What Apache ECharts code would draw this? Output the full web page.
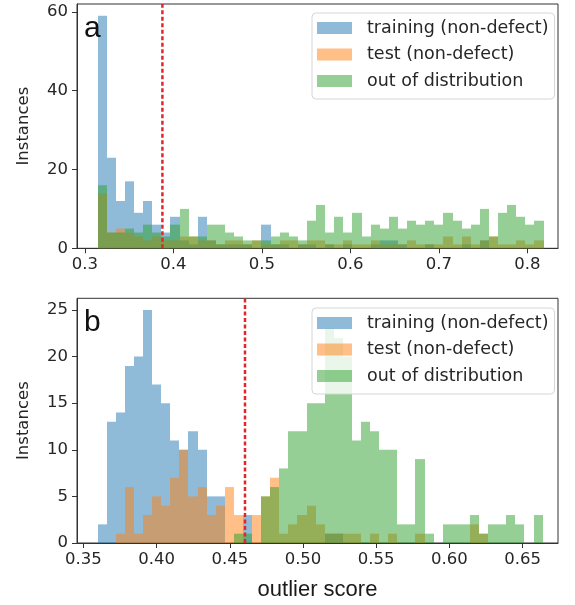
<!DOCTYPE html>
<html>
<head>
<meta charset="utf-8">
<script src="https://cdn.jsdelivr.net/npm/echarts@6/dist/echarts.min.js"></script>
<style>
  html, body { margin: 0; padding: 0; background: #fff; }
  #chart { width: 575px; height: 605px; }
</style>
</head>
<body>
<div id="chart"></div>
<script>
// histogram bins: 49 equal bins per panel (left edge of first bin + width)
const binStartA = 0.3144
const binWidthA = 0.01028
const binStartB = 0.3598
const binWidthB = 0.0062

// panel a counts
const trainA = [59,23,12,17,9,12,6,4,8,2, 1,8,2,1,1,1,1,0,6,1, 1,0,1,1,0,1,0,1,0,0, 1,2,2,1,0,0,1,0,0,0, 1,0,2,0,0,0,0,0,0]
const testA = [14,4,5,4,3,2,3,2,2,3, 3,2,2,1,2,2,1,2,1,1, 2,2,1,2,2,1,1,2,1,1, 2,1,1,1,2,1,1,1,3,1, 3,1,2,3,1,1,2,1,2]
const oodA = [16,4,4,5,4,6,4,3,6,10, 3,3,6,6,4,3,2,2,2,3, 4,3,2,7,11,4,8,4,9,3, 6,5,8,5,7,6,7,6,9,7, 5,6,10,3,9,11,8,6,7]

// panel b counts
const trainB = [2,13,14,19,20,25,17,15,11,10, 12,10,5,5,0,0,3,0,0,0, 0,0,0,0,0,1,1,0,0,0, 0,0,0,0,0,0,0,0,0,0, 0,0,0,0,0,0,0,0,0]
const testB = [0,0,1,6,1,3,5,4,7,10, 5,6,3,4,6,3,0,3,5,7, 1,2,3,4,2,1,1,1,1,0, 1,0,1,0,0,1,0,0,0,0, 0,2,1,0,0,0,0,0,0]
const oodB = [0,0,0,0,0,0,0,0,0,0, 0,0,0,0,0,1,1,0,5,6, 8,12,12,15,15,23,22,20,11,13, 12,10,10,2,2,9,1,0,2,2, 2,3,1,2,2,3,2,0,3]

// thresholds (red dotted lines)
const thresholdA = 0.3875
const thresholdB = 0.4604

const ticksA = [0.3, 0.4, 0.5, 0.6, 0.7, 0.8]
const ticksB = [0.35, 0.40, 0.45, 0.50, 0.55, 0.60, 0.65]

const names = ['training (non-defect)', 'test (non-defect)', 'out of distribution']
const colors = ['rgba(31,119,180,0.5)', 'rgba(255,127,14,0.5)', 'rgba(44,160,44,0.5)']

const tickFont = 'DejaVu Sans'
const textColor = '#262626'

function toBins(counts, start, width) {
  const out = []
  counts.forEach((c, i) => {
    if (c > 0) out.push([start + i * width, start + (i + 1) * width, c])
  })
  return out
}

// snap edges to whole pixels so neighbouring bars don't leave seams
function renderBar(params, api) {
  const p0 = api.coord([api.value(0), api.value(2)])
  const p1 = api.coord([api.value(1), 0])
  const x0 = Math.round(p0[0])
  const x1 = Math.round(p1[0])
  return {
    type: 'rect',
    shape: { x: x0, y: p0[1], width: x1 - x0, height: p1[1] - p0[1] },
    style: { fill: api.visual('color') }
  }
}

function histSeries(i, counts, start, width, idx) {
  return {
    name: names[i],
    type: 'custom',
    xAxisIndex: idx,
    yAxisIndex: idx,
    renderItem: renderBar,
    encode: { x: [0, 1], y: 2 },
    itemStyle: { color: colors[i] },
    data: toBins(counts, start, width),
    silent: true,
    z: 2
  }
}

function thresholdSeries(x, ymax, idx) {
  return {
    type: 'line',
    xAxisIndex: idx,
    yAxisIndex: idx,
    data: [[x, 0], [x, ymax]],
    symbol: 'none',
    silent: true,
    z: 5,
    lineStyle: { color: '#e3262b', width: 2.5, type: [4, 2.5] }
  }
}

function xAxisFor(idx, min, max, ticks, digits, extra) {
  return Object.assign({
    type: 'value',
    gridIndex: idx,
    min: min,
    max: max,
    splitLine: { show: false },
    axisLine: { show: true, onZero: false, lineStyle: { color: '#333', width: 1 } },
    axisTick: { show: true, length: 5, customValues: ticks, lineStyle: { color: '#333' } },
    axisLabel: {
      customValues: ticks,
      formatter: v => v.toFixed(digits),
      margin: 8,
      fontFamily: tickFont,
      fontSize: 16.5,
      color: textColor
    }
  }, extra || {})
}

function yAxisFor(idx, max, interval) {
  return {
    type: 'value',
    gridIndex: idx,
    min: 0,
    max: max,
    interval: interval,
    splitLine: { show: false },
    axisLine: { show: true, lineStyle: { color: '#333', width: 1 } },
    axisTick: { show: true, length: 5, lineStyle: { color: '#333' } },
    axisLabel: {
      margin: 9,
      fontFamily: tickFont,
      fontSize: 16.5,
      color: textColor,
      showMaxLabel: false
    },
    name: 'Instances',
    nameLocation: 'middle',
    nameGap: 45,
    nameTextStyle: { fontFamily: tickFont, fontSize: 16.5, color: textColor }
  }
}

function legendFor(top) {
  return {
    orient: 'vertical',
    left: 312,
    top: top,
    z: 20,
    data: names,
    icon: 'rect',
    itemWidth: 35,
    itemHeight: 12,
    itemGap: 6.5,
    padding: [5, 6, 8, 5],
    selectedMode: false,
    backgroundColor: 'rgba(255,255,255,0.8)',
    borderColor: '#d6d6d6',
    borderWidth: 1,
    borderRadius: 4,
    itemStyle: { borderWidth: 0 },
    textStyle: {
      fontFamily: tickFont,
      fontSize: 17.5,
      lineHeight: 20,
      color: textColor,
      padding: [0, 0, 0, 10]
    }
  }
}

const chart = echarts.init(document.getElementById('chart'), null, { renderer: 'canvas' })

chart.setOption({
  animation: false,
  backgroundColor: '#fff',
  title: [
    { text: 'a', left: 79, top: 9, textStyle: { fontFamily: 'Liberation Sans', fontSize: 30, fontWeight: 'normal', color: '#111' } },
    { text: 'b', left: 79, top: 303, textStyle: { fontFamily: 'Liberation Sans', fontSize: 30, fontWeight: 'normal', color: '#111' } }
  ],
  legend: [legendFor(13), legendFor(308)],
  grid: [
    { left: 77, right: 17, top: 4, height: 244.3, show: true, borderColor: '#333', borderWidth: 1 },
    { left: 77, right: 17, top: 298.3, height: 244.7, show: true, borderColor: '#333', borderWidth: 1 }
  ],
  xAxis: [
    xAxisFor(0, 0.291, 0.8345, ticksA, 1),
    xAxisFor(1, 0.3457, 0.6741, ticksB, 2, {
      name: 'outlier score',
      nameLocation: 'middle',
      nameGap: 36,
      nameTextStyle: { fontFamily: 'Liberation Sans', fontSize: 22, color: '#1a1a1a' }
    })
  ],
  yAxis: [yAxisFor(0, 62, 20), yAxisFor(1, 26.25, 5)],
  series: [
    histSeries(0, trainA, binStartA, binWidthA, 0),
    histSeries(1, testA, binStartA, binWidthA, 0),
    histSeries(2, oodA, binStartA, binWidthA, 0),
    thresholdSeries(thresholdA, 62, 0),
    histSeries(0, trainB, binStartB, binWidthB, 1),
    histSeries(1, testB, binStartB, binWidthB, 1),
    histSeries(2, oodB, binStartB, binWidthB, 1),
    thresholdSeries(thresholdB, 26.25, 1)
  ]
})
</script>
</body>
</html>
